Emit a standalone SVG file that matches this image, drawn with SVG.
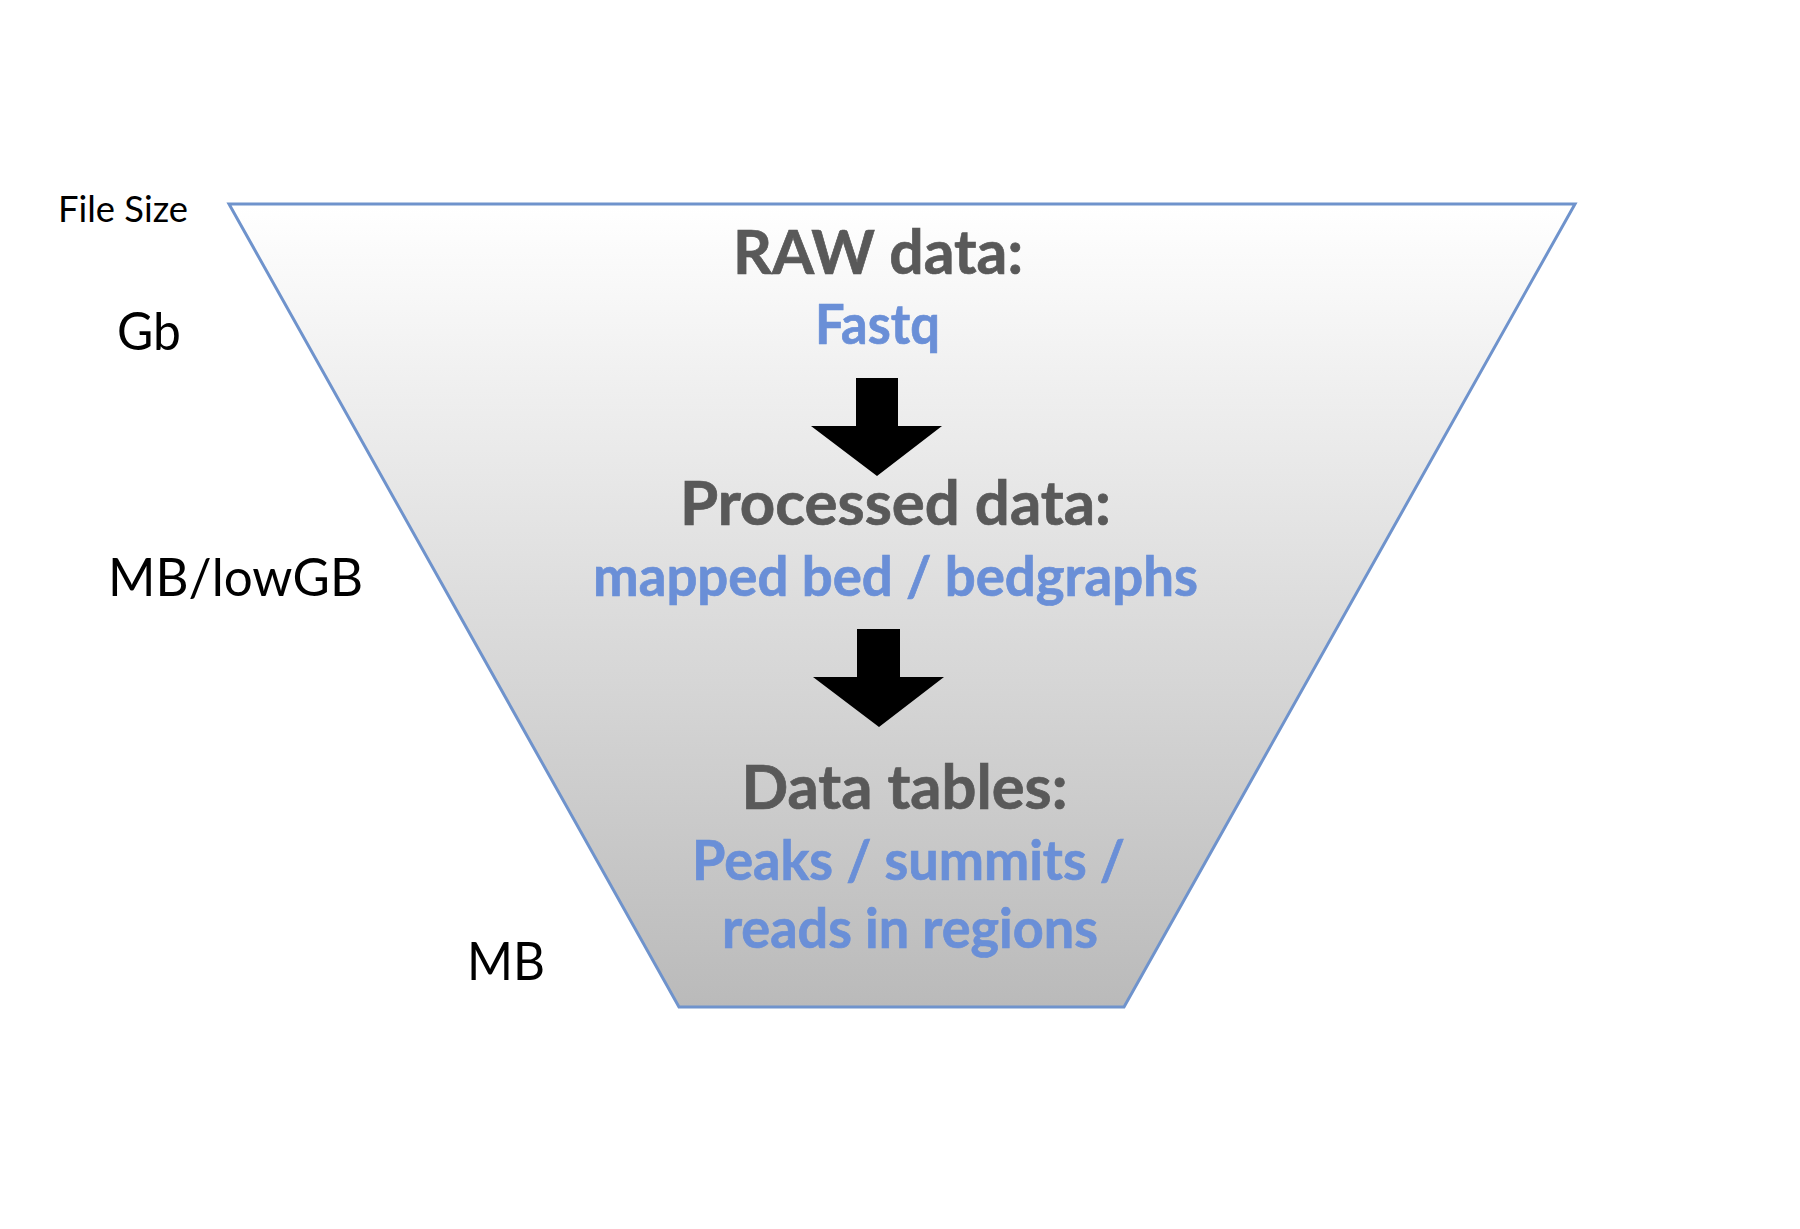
<svg xmlns="http://www.w3.org/2000/svg" width="1800" height="1229" viewBox="0 0 1800 1229">
  <defs>
    <linearGradient id="funnelGrad" x1="0" y1="204" x2="0" y2="1007" gradientUnits="userSpaceOnUse">
      <stop offset="0" stop-color="#FFFFFF"/>
      <stop offset="1" stop-color="#BABABA"/>
    </linearGradient>
  </defs>
  <style>
    .lbl { font-family: Lato, "Open Sans", "Liberation Sans", sans-serif; fill: #000000; }
    .head { font-family: Lato, "Open Sans", "Liberation Sans", sans-serif; font-weight: bold; fill: #595959; stroke: #595959; stroke-width: 0.7; font-size: 61px; text-anchor: middle; }
    .sub { font-family: Lato, "Open Sans", "Liberation Sans", sans-serif; font-weight: bold; fill: #6A8FD7; stroke: #6A8FD7; stroke-width: 0.7; font-size: 55px; text-anchor: middle; }
    .arrow { fill: #000000; }
  </style>
  <rect width="1800" height="1229" fill="#FFFFFF"/>

  <g id="funnel">
    <path d="M229,204 L1575,204 L1124,1007 L679,1007 Z" fill="url(#funnelGrad)" stroke="#6F93CC" stroke-width="3" stroke-linejoin="miter"/>
  </g>

  <g id="size-labels">
    <text id="file-size" class="lbl" x="58" y="222" font-size="37" textLength="130" lengthAdjust="spacingAndGlyphs">File Size</text>
    <text id="gb" class="lbl" x="117" y="350" font-size="53" textLength="64" lengthAdjust="spacingAndGlyphs">Gb</text>
    <text id="mb-lowgb" class="lbl" x="108" y="596" font-size="53" textLength="255" lengthAdjust="spacingAndGlyphs">MB/lowGB</text>
    <text id="mb" class="lbl" x="467" y="980" font-size="53" textLength="78" lengthAdjust="spacingAndGlyphs">MB</text>
  </g>

  <g id="raw-data">
    <text class="head" x="878" y="274" textLength="290" lengthAdjust="spacingAndGlyphs">RAW data:</text>
    <text class="sub" x="877.5" y="344" textLength="125" lengthAdjust="spacingAndGlyphs">Fastq</text>
  </g>

  <g id="processed-data">
    <text class="head" x="895.5" y="525" textLength="431" lengthAdjust="spacingAndGlyphs">Processed data:</text>
    <text class="sub" x="895.5" y="596" textLength="605" lengthAdjust="spacingAndGlyphs">mapped bed / bedgraphs</text>
  </g>

  <g id="data-tables">
    <text class="head" x="904.5" y="809" textLength="326" lengthAdjust="spacingAndGlyphs">Data tables:</text>
    <text class="sub" x="908.5" y="880" textLength="433" lengthAdjust="spacingAndGlyphs">Peaks / summits /</text>
    <text class="sub" x="910" y="948" textLength="376" lengthAdjust="spacingAndGlyphs">reads in regions</text>
  </g>

  <g id="connectors">
    <polygon class="arrow" points="856,378 898,378 898,426 942,426 877,476 811,426 856,426"/>
    <polygon class="arrow" points="857,629 900,629 900,677 944,677 879,727 813,677 857,677"/>
  </g>
</svg>
